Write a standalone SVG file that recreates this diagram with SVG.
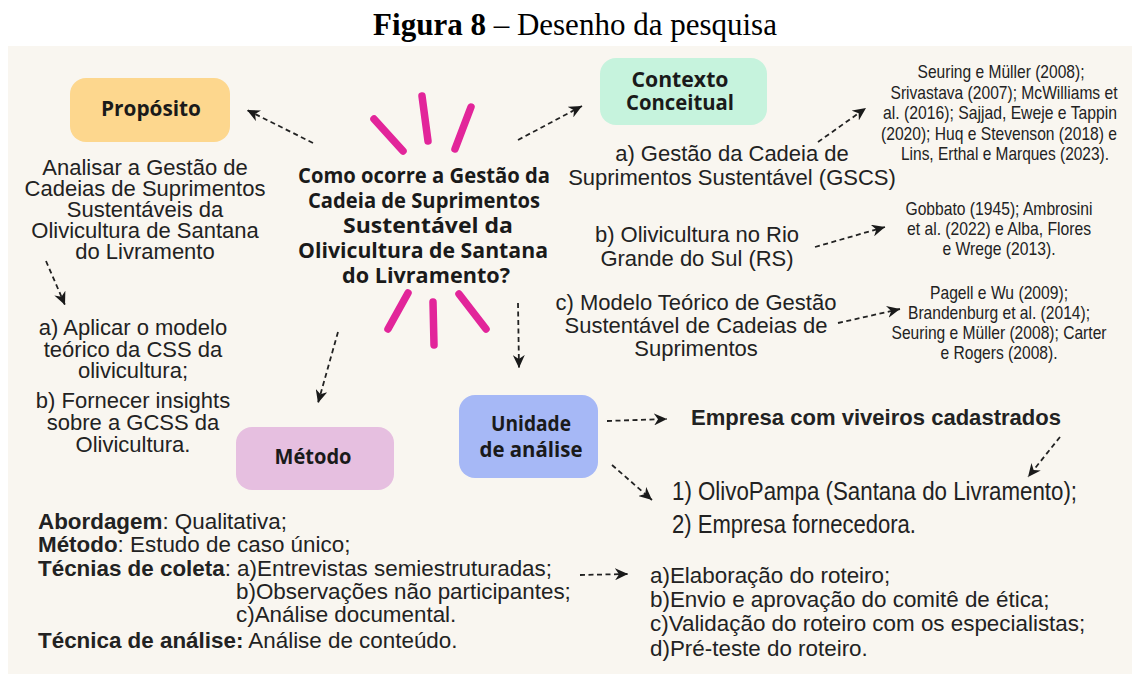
<svg xmlns="http://www.w3.org/2000/svg" width="1132" height="677" viewBox="0 0 1132 677">
<style>
.title{font-family:"Liberation Serif","Times New Roman",serif;font-size:31px;fill:#000}
.hd{font-family:"Open Sans","Noto Sans",sans-serif;font-weight:700;fill:#1a1a1a;text-anchor:middle}
.q{font-size:22px}
.lbl{font-size:21px}
.body{font-family:"Liberation Sans",Arial,sans-serif;font-size:22px;fill:#222}
.big{font-size:22.4px}
.mid{text-anchor:middle}
.ref{font-family:"Liberation Sans Narrow","Arial Narrow","Liberation Sans",sans-serif;font-size:18.5px;fill:#222;text-anchor:middle}
.nar{font-family:"Liberation Sans Narrow","Arial Narrow","Liberation Sans",sans-serif;font-size:26px;fill:#222}
.b{font-weight:bold}
.dash{fill:none;stroke:#222;stroke-width:1.8;stroke-dasharray:5 3.5;marker-end:url(#ah)}
.burst{stroke:#e2259a;stroke-width:7.5;stroke-linecap:round}
</style>
<defs>
<marker id="ah" markerWidth="14" markerHeight="12" refX="13" refY="6" orient="auto" markerUnits="userSpaceOnUse">
<path d="M0,0 L13,6 L0,12 L4,6 Z" fill="#1a1a1a"/>
</marker>
</defs>
<rect x="0" y="0" width="1132" height="677" fill="#ffffff"/>
<text class="title" x="575" y="35" text-anchor="middle"><tspan font-weight="bold">Figura 8</tspan> – Desenho da pesquisa</text>
<rect x="8" y="46" width="1124" height="628" fill="#f9f6f0"/>

<g id="burst">
<line class="burst" x1="374" y1="119" x2="403" y2="151"/>
<line class="burst" x1="422" y1="96" x2="428" y2="141"/>
<line class="burst" x1="471" y1="107" x2="455" y2="149"/>
<line class="burst" x1="408" y1="293" x2="388" y2="329"/>
<line class="burst" x1="433" y1="302" x2="434" y2="345"/>
<line class="burst" x1="459" y1="294" x2="486" y2="329"/>
</g>

<g id="question">
<text class="hd q" x="424" y="183" textLength="252" lengthAdjust="spacingAndGlyphs">Como ocorre a Gestão da</text>
<text class="hd q" x="424" y="208" textLength="232" lengthAdjust="spacingAndGlyphs">Cadeia de Suprimentos</text>
<text class="hd q" x="428" y="233" textLength="170" lengthAdjust="spacingAndGlyphs">Sustentável da</text>
<text class="hd q" x="423" y="258" textLength="250" lengthAdjust="spacingAndGlyphs">Olivicultura de Santana</text>
<text class="hd q" x="426" y="283" textLength="168" lengthAdjust="spacingAndGlyphs">do Livramento?</text>
</g>

<g id="proposito">
<rect x="70" y="78" width="160" height="64" rx="16" fill="#fdd78e"/>
<text class="hd lbl" x="151" y="116" textLength="100" lengthAdjust="spacingAndGlyphs">Propósito</text>
</g>
<g id="proposito-text" class="body mid" font-size="21.5">
<text x="145" y="175">Analisar a Gestão de</text>
<text x="145" y="196">Cadeias de Suprimentos</text>
<text x="145" y="217">Sustentáveis da</text>
<text x="145" y="238">Olivicultura de Santana</text>
<text x="145" y="258.5">do Livramento</text>
</g>
<g id="objetivos" class="body mid">
<text x="133" y="335">a) Aplicar o modelo</text>
<text x="133" y="357">teórico da CSS da</text>
<text x="133" y="378">olivicultura;</text>
<text x="133" y="408">b) Fornecer insights</text>
<text x="133" y="430">sobre a GCSS da</text>
<text x="133" y="452">Olivicultura.</text>
</g>

<g id="contexto">
<rect x="600" y="58" width="167" height="67" rx="16" fill="#c6f3dd"/>
<text class="hd lbl" x="680" y="87" textLength="97" lengthAdjust="spacingAndGlyphs">Contexto</text>
<text class="hd lbl" x="680" y="110" textLength="108" lengthAdjust="spacingAndGlyphs">Conceitual</text>
</g>
<g id="contexto-a" class="body mid">
<text x="732" y="161">a) Gestão da Cadeia de</text>
<text x="732" y="185">Suprimentos Sustentável (GSCS)</text>
</g>
<g id="contexto-b" class="body mid">
<text x="697" y="242">b) Olivicultura no Rio</text>
<text x="697" y="266">Grande do Sul (RS)</text>
</g>
<g id="contexto-c" class="body mid">
<text x="696" y="310">c) Modelo Teórico de Gestão</text>
<text x="696" y="333">Sustentável de Cadeias de</text>
<text x="696" y="356">Suprimentos</text>
</g>
<g id="refs-a">
<text class="ref" x="1001" y="78" textLength="167" lengthAdjust="spacingAndGlyphs">Seuring e Müller (2008);</text>
<text class="ref" x="1004" y="98.5" textLength="227" lengthAdjust="spacingAndGlyphs">Srivastava (2007); McWilliams et</text>
<text class="ref" x="1000" y="119" textLength="234" lengthAdjust="spacingAndGlyphs">al. (2016); Sajjad, Eweje e Tappin</text>
<text class="ref" x="999" y="139.5" textLength="236" lengthAdjust="spacingAndGlyphs">(2020); Huq e Stevenson (2018) e</text>
<text class="ref" x="1005" y="160" textLength="208" lengthAdjust="spacingAndGlyphs">Lins, Erthal e Marques (2023).</text>
</g>
<g id="refs-b">
<text class="ref" x="999" y="215" textLength="187" lengthAdjust="spacingAndGlyphs">Gobbato (1945); Ambrosini</text>
<text class="ref" x="999" y="235" textLength="184" lengthAdjust="spacingAndGlyphs">et al. (2022) e Alba, Flores</text>
<text class="ref" x="999" y="255" textLength="113" lengthAdjust="spacingAndGlyphs">e Wrege (2013).</text>
</g>
<g id="refs-c">
<text class="ref" x="999" y="299" textLength="138" lengthAdjust="spacingAndGlyphs">Pagell e Wu (2009);</text>
<text class="ref" x="999" y="319" textLength="182" lengthAdjust="spacingAndGlyphs">Brandenburg et al. (2014);</text>
<text class="ref" x="999" y="339" textLength="215" lengthAdjust="spacingAndGlyphs">Seuring e Müller (2008); Carter</text>
<text class="ref" x="999" y="359" textLength="117" lengthAdjust="spacingAndGlyphs">e Rogers (2008).</text>
</g>

<g id="metodo">
<rect x="236" y="427" width="158" height="63" rx="16" fill="#e6bfe0"/>
<text class="hd lbl" x="313" y="464" textLength="77" lengthAdjust="spacingAndGlyphs">Método</text>
</g>
<g id="metodo-text" class="body big">
<text x="38" y="529"><tspan class="b">Abordagem</tspan>: Qualitativa;</text>
<text x="38" y="552"><tspan class="b">Método</tspan>: Estudo de caso único;</text>
<text x="38" y="576"><tspan class="b">Técnias de coleta</tspan>: a)Entrevistas semiestruturadas;</text>
<text x="236" y="599">b)Observações não participantes;</text>
<text x="236" y="622">c)Análise documental.</text>
<text x="38" y="648"><tspan class="b">Técnica de análise:</tspan> Análise de conteúdo.</text>
</g>
<g id="roteiro" class="body big">
<text x="650" y="583">a)Elaboração do roteiro;</text>
<text x="650" y="607">b)Envio e aprovação do comitê de ética;</text>
<text x="650" y="631">c)Validação do roteiro com os especialistas;</text>
<text x="650" y="656">d)Pré-teste do roteiro.</text>
</g>

<g id="unidade">
<rect x="459" y="395" width="139" height="83" rx="16" fill="#a6b8f6"/>
<text class="hd lbl" x="531" y="431" textLength="80" lengthAdjust="spacingAndGlyphs">Unidade</text>
<text class="hd lbl" x="531" y="457" textLength="103" lengthAdjust="spacingAndGlyphs">de análise</text>
</g>
<g id="empresa">
<text class="body b" x="691" y="425" font-size="25" textLength="370" lengthAdjust="spacingAndGlyphs">Empresa com viveiros cadastrados</text>
</g>
<g id="empresas-lista">
<text class="nar" x="672" y="500" textLength="405" lengthAdjust="spacingAndGlyphs">1) OlivoPampa (Santana do Livramento);</text>
<text class="nar" x="672" y="533" textLength="244" lengthAdjust="spacingAndGlyphs">2) Empresa fornecedora.</text>
</g>

<g id="connectors">
<path class="dash" d="M313,143 L247,110"/>
<path class="dash" d="M518,140 L582,106"/>
<path class="dash" d="M818,142 L866,108"/>
<path class="dash" d="M815,247 L885,227"/>
<path class="dash" d="M838,323 L900,309"/>
<path class="dash" d="M46,261 L65,305"/>
<path class="dash" d="M338,332 L318,403"/>
<path class="dash" d="M518,303 L519,368"/>
<path class="dash" d="M607,421 L667,419"/>
<path class="dash" d="M612,465 L652,500"/>
<path class="dash" d="M1060,437 L1028,477"/>
<path class="dash" d="M580,575 L628,574"/>
</g>
</svg>
